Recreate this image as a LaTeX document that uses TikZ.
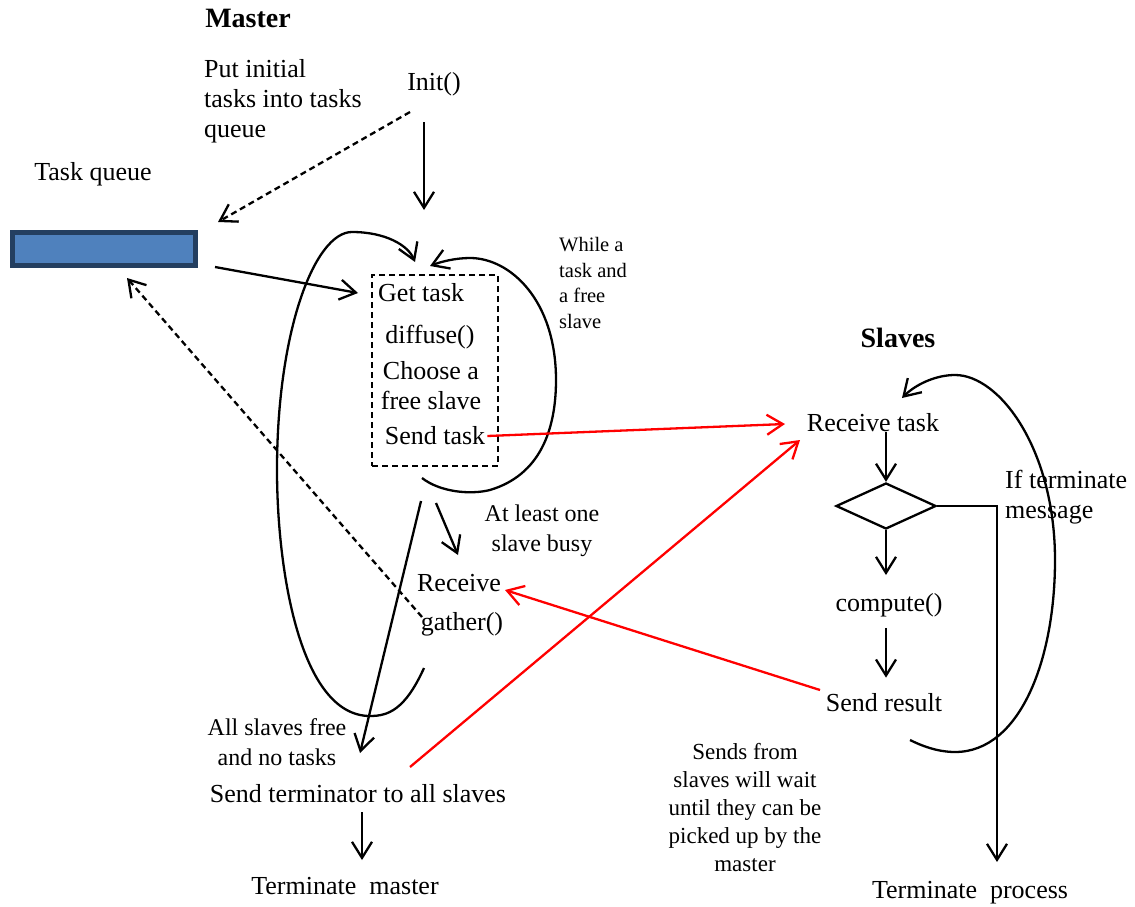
\documentclass[tikz,border=0pt]{standalone}
\usepackage{fontspec}
\setmainfont{Liberation Serif}
\usepackage{xcolor}
\definecolor{queue_blue}{RGB}{79,129,189}
\definecolor{queue_border}{RGB}{36,63,96}
\definecolor{msg_red}{RGB}{255,0,0}
\usepackage{tikz}
\usetikzlibrary{positioning, shapes.geometric, arrows.meta}
\tikzstyle{txt} = [inner sep=0pt, align=center, font=\fontsize{26}{30}\selectfont]
\tikzstyle{title} = [inner sep=0pt, font=\fontsize{28}{32}\selectfont\bfseries]
\tikzstyle{note} = [inner sep=0pt, font=\fontsize{20.5}{25.5}\selectfont]
\tikzstyle{mid} = [inner sep=0pt, align=center, font=\fontsize{24}{30}\selectfont]
\tikzstyle{wait} = [inner sep=0pt, align=center, font=\fontsize{23}{28}\selectfont]
\tikzstyle{queue} = [
    rectangle, minimum width=183pt, minimum height=33pt, inner sep=0pt,
    line width=5pt, draw=queue_border, fill=queue_blue
]
\tikzstyle{taskbox} = [
    rectangle, minimum width=126pt, minimum height=191pt, inner sep=0pt,
    line width=2.3pt, draw=black, dash pattern=on 6pt off 4pt
]
\tikzstyle{decision} = [
    diamond, minimum width=100pt, minimum height=46pt, inner sep=0pt,
    line width=2.3pt, draw=black
]
\tikzstyle{arrow} = [line width=2.3pt, -{Straight Barb[length=16pt,width=20pt]}]
\tikzstyle{dasharrow} = [arrow, dash pattern=on 6pt off 4pt]
\tikzstyle{msg} = [arrow, msg_red]

\begin{document}
\begin{tikzpicture}[x=1pt, y=-1pt]
    \useasboundingbox (0,0) rectangle (1135,907);

    % master nodes
    \node[title] (master_title) at (248,18) {Master};
    \node[txt, align=left, anchor=west] (put_tasks_text) at (204,101) {Put initial\\tasks into tasks\\queue};
    \node[txt] (init_text) at (434,84) {Init()};
    \node[txt] (queue_text) at (93,174) {Task queue};
    \node[queue] (task_queue) at (104,249) {};
    \node[taskbox] (task_box) at (435,370.5) {};
    \node[txt, anchor=west] (get_task) at (378,293) {Get task};
    \node[txt] (diffuse_text) at (430,337) {diffuse()};
    \node[txt] (choose_text) at (431,386) {Choose a\\free slave};
    \node[txt] (send_task) at (435,436) {Send task};
    \node[note, align=left, anchor=west] (while_text) at (559,283) {While a\\task and\\a free\\slave};
    \node[mid] (least_text) at (542,531) {At least one\\slave busy};
    \node[txt] (receive_text) at (459,583) {Receive};
    \node[txt] (gather_text) at (462,624) {gather()};
    \node[mid] (all_free_text) at (277,742) {All slaves free\\and no tasks};
    \node[txt] (terminator_text) at (358,794) {Send terminator to all slaves};
    \node[txt] (term_master_text) at (345,886) {Terminate\ \ master};

    % slave nodes
    \node[title] (slaves_title) at (898,338) {Slaves};
    \node[txt] (recv_task) at (873,423) {Receive task};
    \node[decision] (decision) at (886,506) {};
    \node[txt, align=left, anchor=west] (if_term_text) at (1005,497) {If terminate\\message};
    \node[txt] (compute_text) at (889,605) {compute()};
    \node[txt] (send_result) at (884,703) {Send result};
    \node[wait] (sends_note) at (745,808) {Sends from\\slaves will wait\\until they can be\\picked up by the\\master};
    \node[txt] (term_process_text) at (970,893) {Terminate\ \ process};

    % loose ends of the loops
    \coordinate (loop_entry) at (424,210);
    \coordinate (anchor1) at (424,668);
    \coordinate (anchor2) at (415,262);
    \coordinate (anchor3) at (422,478);
    \coordinate (anchor4) at (430,266);
    \coordinate (anchor5) at (421,501);
    \coordinate (anchor6) at (360,753);
    \coordinate (anchor7) at (436,503);
    \coordinate (anchor8) at (458,555);
    \coordinate (anchor9) at (910,740);
    \coordinate (anchor10) at (902,398);
    \coordinate (exit_end) at (997,862);

    % arrows in master
    \draw[arrow] ([shift={(-10,38)}]init_text.center) -- (loop_entry);
    \draw[dasharrow] ([shift={(-24,28)}]init_text.center) -- ([shift={(114,-27)}]task_queue.center);
    \draw[arrow] ([shift={(111,18)}]task_queue.center) -- ([xshift=-20pt]get_task.west);
    \draw[arrow] (anchor1) .. controls (405,710) and (388,716) .. (370,716)
        .. controls (300,716) and (277,570) .. (277,470)
        .. controls (277,330) and (315,232) .. (352,232)
        .. controls (385,232) and (408,245) .. (anchor2);
    \draw[arrow] (anchor3) .. controls (440,492) and (470,495) .. (490,490)
        .. controls (540,475) and (556,430) .. (556,380)
        .. controls (556,300) and (510,258) .. (470,258)
        .. controls (455,258) and (440,262) .. (anchor4);
    \draw[arrow] (anchor5) -- (anchor6);
    \draw[arrow] (anchor7) -- (anchor8);
    \draw[dasharrow] ([shift={(-40,-7)}]gather_text.center) -- ([shift={(23,29)}]task_queue.center);
    \draw[arrow] ([shift={(4,18)}]terminator_text.center) -- ([shift={(17,-26)}]term_master_text.center);

    % messages between master and slaves
    \draw[msg] ([xshift=2pt]send_task.east) -- ([shift={(-88,1)}]recv_task.center);
    \draw[msg] ([shift={(52,-27)}]terminator_text.center) -- ([shift={(-73,17)}]recv_task.center);
    \draw[msg] ([shift={(-64,-13)}]send_result.center) -- ([shift={(46,7)}]receive_text.center);

    % arrows in slaves
    \draw[arrow] (decision.north |- recv_task.south) -- (decision.north);
    \draw[arrow, shorten >=18pt] (decision.south) -- (decision.south |- compute_text.north);
    \draw[arrow, shorten <=11pt, shorten >=16pt] (decision.south |- compute_text.south) -- (decision.south |- send_result.north);
    \draw[arrow] (decision.east) -| (exit_end);
    \draw[arrow] (anchor9) .. controls (930,750) and (945,752) .. (955,752)
        .. controls (1020,752) and (1055,660) .. (1055,560)
        .. controls (1055,450) and (1000,375) .. (955,375)
        .. controls (935,375) and (915,385) .. (anchor10);
\end{tikzpicture}
\end{document}
